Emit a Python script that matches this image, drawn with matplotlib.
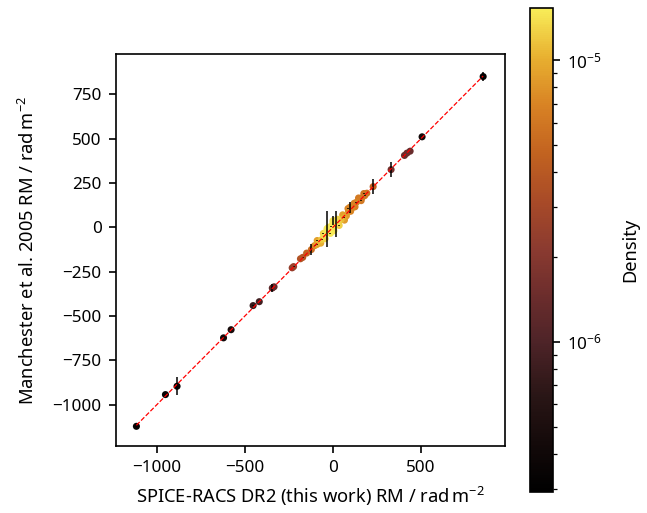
import numpy as np
import matplotlib
matplotlib.use('Agg')
import matplotlib.pyplot as plt
from matplotlib.colors import LinearSegmentedColormap, LogNorm

plt.rcParams['font.family'] = ['Noto Sans', 'DejaVu Sans']
plt.rcParams['font.size'] = 12.3
plt.rcParams['mathtext.fontset'] = 'custom'
plt.rcParams['mathtext.rm'] = 'Noto Sans'
plt.rcParams['mathtext.it'] = 'Noto Sans:italic'
plt.rcParams['axes.linewidth'] = 1.2
for a in ('xtick', 'ytick'):
    plt.rcParams[a + '.major.size'] = 5.3
    plt.rcParams[a + '.major.width'] = 1.2
    plt.rcParams[a + '.minor.size'] = 3.0
    plt.rcParams[a + '.minor.width'] = 0.9
    plt.rcParams[a + '.major.pad'] = 5.0

# RM pairs: SPICE-RACS DR2 vs Manchester et al. 2005
rm_spice = [-1117, -952, -886, -622, -579, -454, -419, -345, -335,
            -232, -224, -185, -172, -150, -123, -105, -92, -78, -64, -52,
            -40, -34, -22, -10, 2, 12, 19, 30, 45, 60, 76, 88, 96, 110,
            132, 150, 164, 180, 192, 228,
            330, 406, 420, 438, 506, 853,
            -90, -70, -55, -45, -25, -15, 0, 5, 25, 35, 55, 65,
            85, 100, 120, 125, 145, 160, 175, 0]
rm_manch = [-1123, -944, -897, -624, -578, -442, -420, -343, -336,
            -229, -222, -178, -170, -146, -126, -104, -98, -82, -70, -50,
            -28, -8, -20, 5, -4, 14, 19, 28, 42, 55, 64, 90, 113, 110,
            140, 155, 166, 178, 192, 229,
            325, 405, 418, 429, 510, 850,
            -75, -90, -35, -65, 0, -35, 25, -20, 45, 10, 70, 40,
            105, 90, 135, 115, 165, 150, 190, 37]
rm_manch_err = [1, 1, 51, 1, 1, 1, 1, 20, 1,
                1, 1, 1, 1, 1, 30, 1, 1, 1, 1, 1,
                1, 101, 1, 1, 1, 1, 74, 1, 1, 1, 1, 1, 30, 1,
                1, 1, 1, 1, 1, 41,
                42, 1, 1, 1, 1, 28,
                1, 1, 1, 1, 1, 1, 1, 1, 1, 1, 1, 1,
                1, 1, 1, 1, 1, 1, 1, 25]
density = [3.3e-7, 3.3e-7, 3.4e-7, 4.2e-7, 4.6e-7, 7.5e-7, 8.5e-7, 1.2e-6, 1.3e-6,
           2.4e-6, 2.6e-6, 3.6e-6, 3.9e-6, 4.6e-6, 5.5e-6, 7.5e-6, 9e-6, 1.05e-5, 1.2e-5, 1.35e-5,
           1.45e-5, 1.5e-5, 1.5e-5, 1.5e-5, 1.45e-5, 1.4e-5, 1.35e-5, 1.25e-5, 1.1e-5, 9.5e-6,
           8.5e-6, 7.5e-6, 7e-6, 7e-6,
           6.8e-6, 6.5e-6, 6.2e-6, 6e-6, 5.6e-6, 4.6e-6,
           1.6e-6, 1.4e-6, 1.45e-6, 1.4e-6, 4.2e-7, 3.1e-7,
           9e-6, 1.0e-5, 1.3e-5, 1.3e-5, 1.5e-5, 1.5e-5, 1.5e-5, 1.45e-5, 1.3e-5, 1.25e-5, 9e-6, 8.5e-6,
           7e-6, 7e-6, 6.8e-6, 6.6e-6, 6.3e-6, 6.1e-6, 5.8e-6, 1.45e-5]

cmap = LinearSegmentedColormap.from_list('amber', [
    (0.00, '#000000'), (0.10, '#140a0a'), (0.20, '#2a1616'),
    (0.31, '#4e2428'), (0.40, '#6a2c2c'), (0.50, '#8a3a30'),
    (0.60, '#a84a28'), (0.70, '#c26220'), (0.80, '#d88224'),
    (0.90, '#e8b030'), (1.00, '#f8ec58')])
norm = LogNorm(vmin=2.935e-7, vmax=1.526e-5)

x = np.array(rm_spice)
y = np.array(rm_manch)
d = np.array(density)
order = np.argsort(d)

fig = plt.figure(figsize=(6.47, 5.13), dpi=100)
ax = fig.add_axes([0.179, 0.1306, 0.6015, 0.7641])
cax = fig.add_axes([0.819, 0.0415, 0.0356, 0.942])

sc = ax.scatter(x[order], y[order], c=d[order], cmap=cmap, norm=norm,
                s=26, edgecolors='none', zorder=2)
ax.errorbar(x, y, yerr=rm_manch_err, fmt='none', ecolor='k', lw=1.1,
            zorder=3)
lims = [x.min(), x.max()]
ax.plot(lims, lims, '--', color='red', lw=0.9, zorder=4)

ax.set_xlim(-1234, 977)
ax.set_ylim(-1234, 977)
ax.set_xticks([-1000, -500, 0, 500])
ax.set_yticks([-1000, -750, -500, -250, 0, 250, 500, 750])
ax.set_xlabel(r'SPICE-RACS DR2 (this work) RM / rad$\,$m$^{-2}$',
              fontsize=13.2, labelpad=6)
ax.set_ylabel(r'Manchester et al. 2005 RM / rad$\,$m$^{-2}$',
              fontsize=13.2, labelpad=10)

cb = fig.colorbar(sc, cax=cax)
cb.outline.set_linewidth(1.2)
cb.set_label('Density', fontsize=13.2, labelpad=14)

fig.savefig('out.png', dpi=100)
